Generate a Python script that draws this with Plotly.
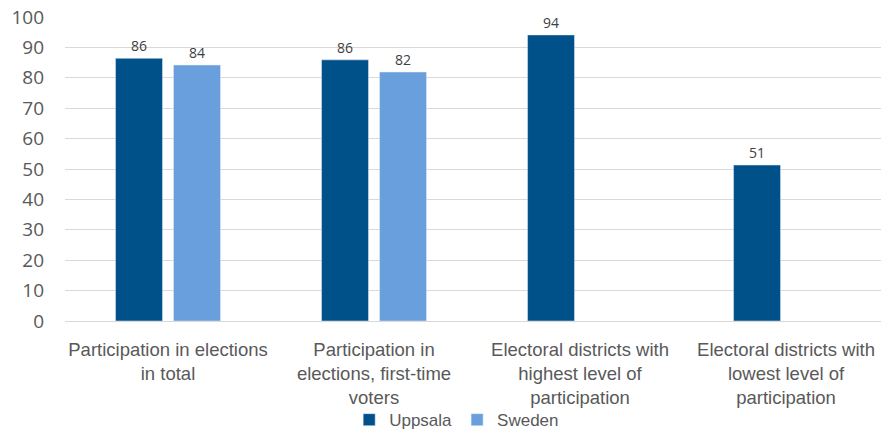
import plotly.graph_objects as go

categories = [
    "Participation in elections<br>in total",
    "Participation in<br>elections, first-time<br>voters",
    "Electoral districts with<br>highest level of<br>participation",
    "Electoral districts with<br>lowest level of<br>participation",
]
uppsala_labels = [86, 86, 94, 51]
sweden_labels = [84, 82, None, None]
uppsala = [86.4, 85.9, 94.1, 51.3]
sweden = [84.2, 81.9, None, None]
y_ticks = [0, 10, 20, 30, 40, 50, 60, 70, 80, 90, 100]

fig = go.Figure()
fig.add_trace(go.Bar(
    name="Uppsala", x=categories, y=uppsala,
    marker_color="#00508A",
    text=[str(v) for v in uppsala_labels], textposition="outside",
    textfont=dict(size=14, color="#404040", family="Open Sans"),
    cliponaxis=False,
))
fig.add_trace(go.Bar(
    name="Sweden", x=categories, y=sweden,
    marker_color="#6A9FDE",
    text=[str(v) if v is not None else "" for v in sweden_labels], textposition="outside",
    textfont=dict(size=14, color="#404040", family="Open Sans"),
    cliponaxis=False,
))
fig.update_layout(
    width=881, height=433,
    margin=dict(l=65, r=0, t=17, b=112, autoexpand=False),
    plot_bgcolor="white", paper_bgcolor="white",
    barmode="group", bargap=0.437, bargroupgap=0.19,
    font=dict(family="Liberation Sans, Arial", color="#595959", size=18.5),
    showlegend=True,
    legend=dict(orientation="h", x=0.48, xanchor="center", y=-0.326, yanchor="middle",
                font=dict(size=17, color="#595959", family="Liberation Sans, Arial"),
                bgcolor="rgba(0,0,0,0)", itemwidth=30, traceorder="normal"),
    yaxis=dict(range=[0, 100], tickmode="array", tickvals=y_ticks,
               gridcolor="#D9D9D9", gridwidth=1,
               tickfont=dict(size=19, color="#595959", family="Open Sans"), zeroline=False,
               ticklabelstandoff=20, automargin=False),
    xaxis=dict(range=[-0.5, 3.461], showline=True, linecolor="#D9D9D9", linewidth=1,
               tickfont=dict(size=18.5, color="#595959"), ticks="",
               ticklabelstandoff=12, automargin=False),
)
fig.write_html(
    "out.html",
    config={"displayModeBar": False},
    post_script="document.body.style.margin='0';document.body.style.overflow='hidden';",
)
